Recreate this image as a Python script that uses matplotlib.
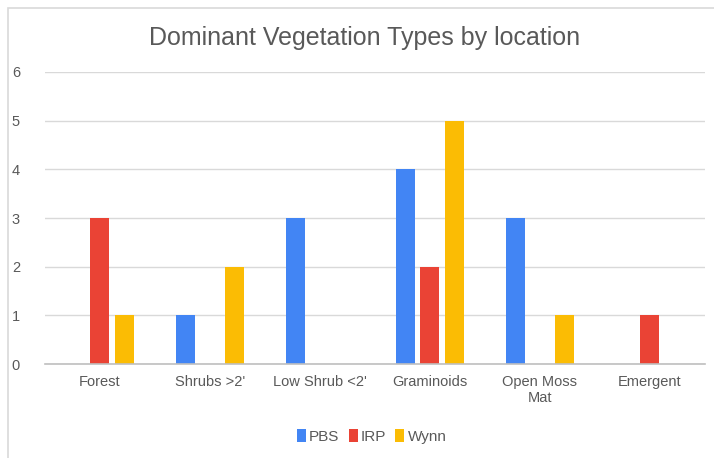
import numpy as np
import matplotlib
matplotlib.use("Agg")
import matplotlib.pyplot as plt
from matplotlib.patches import Rectangle

plt.rcParams['font.family'] = ['Liberation Sans', 'DejaVu Sans']

categories = ["Forest", "Shrubs >2'", "Low Shrub <2'", "Graminoids", "Open Moss\nMat", "Emergent"]
series = ["PBS", "IRP", "Wynn"]
pbs = [0, 1, 3, 4, 3, 0]
irp = [3, 0, 0, 2, 0, 1]
wynn = [1, 2, 0, 5, 1, 0]
colors = ["#4285F4", "#EA4335", "#FBBC04"]

fig = plt.figure(figsize=(7.14, 4.58), dpi=100)
ax = fig.add_axes([0.063, 0.205, 0.924, 0.638])

# light frame around the chart
fig.patches.append(Rectangle((8 / 714, -0.1), 1.1, 1 - 8 / 458 + 0.1,
                             transform=fig.transFigure, fill=False,
                             edgecolor="#d9d9d9", linewidth=1.2))

x = np.arange(len(categories))
step = 0.223
width = 0.173
for i, (name, vals) in enumerate(zip(series, [pbs, irp, wynn])):
    ax.bar(x + (i - 1) * step, vals, width, color=colors[i], label=name, zorder=3)

ax.set_xlim(-0.5, len(categories) - 0.5)
ax.set_ylim(0, 6)
ax.set_yticks(range(0, 7))
ax.set_xticks(x)
ax.set_xticklabels(categories)
ax.grid(axis="y", color="#d9d9d9", linewidth=1, zorder=0)
for s in ["top", "right", "left"]:
    ax.spines[s].set_visible(False)
ax.spines["bottom"].set_color("#bfbfbf")
ax.spines["bottom"].set_linewidth(1.2)
ax.spines["bottom"].set_zorder(4)
ax.tick_params(axis="both", length=0, labelsize=10.5, labelcolor="#595959")
ax.tick_params(axis="x", pad=8)
ax.tick_params(axis="y", pad=18)

fig.text(0.51, 0.918, "Dominant Vegetation Types by location", ha="center", va="center",
         fontsize=18, color="#595959")

ax.legend(loc="center", bbox_to_anchor=(0.5 - 0.005, -0.248), ncol=3, frameon=False,
          fontsize=11, handlelength=0.6, handleheight=0.9, handletextpad=0.2,
          columnspacing=0.6, labelcolor="#595959")

fig.savefig("out.png", dpi=100)
